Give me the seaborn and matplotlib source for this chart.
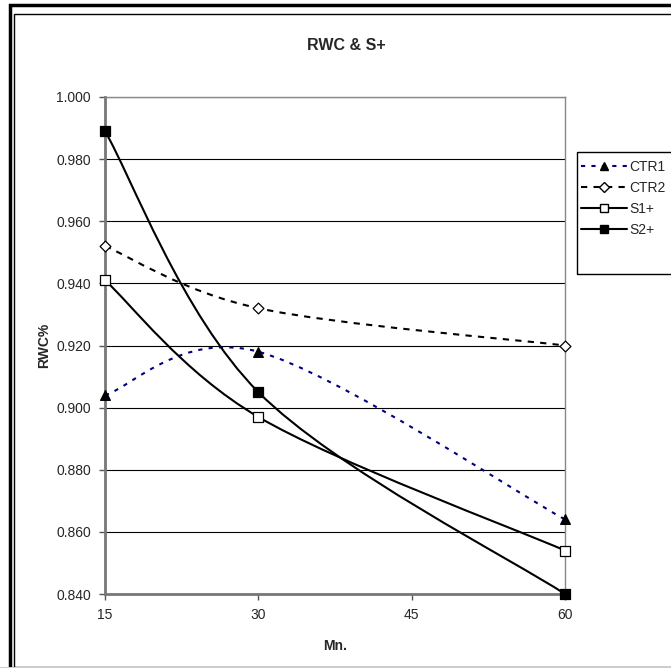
import numpy as np
import pandas as pd
import matplotlib
matplotlib.use("Agg")
import matplotlib.pyplot as plt
from matplotlib.path import Path
from matplotlib.patches import PathPatch, Rectangle
from matplotlib.lines import Line2D
import seaborn as sns

minutes = [15, 30, 60]
ctr1 = [0.904, 0.918, 0.864]
ctr2 = [0.952, 0.932, 0.920]
s1 = [0.941, 0.897, 0.854]
s2 = [0.989, 0.905, 0.840]
series_names = ["CTR1", "CTR2", "S1+", "S2+"]
x_ticks = [15, 30, 45, 60]
y_ticks = [0.840, 0.860, 0.880, 0.900, 0.920, 0.940, 0.960, 0.980, 1.000]

sns.set_theme(style="white")
plt.rcParams['font.family'] = ['Liberation Sans', 'DejaVu Sans']

fig = plt.figure(figsize=(6.71, 6.68), dpi=100)
ax = fig.add_axes([105/671, 1-594/668, (565-105)/671, (594-97)/668])

styles = {
    "CTR1": dict(color="#000080", ls=(0, (2, 3)), marker="^", mfc="black", mec="black", ms=7),
    "CTR2": dict(color="black", ls=(0, (3, 3)), marker="D", mfc="white", mec="black", ms=5.5),
    "S1+": dict(color="black", ls="-", marker="s", mfc="white", mec="black", ms=7),
    "S2+": dict(color="black", ls="-", marker="s", mfc="black", mec="black", ms=7),
}
data = {"CTR1": ctr1, "CTR2": ctr2, "S1+": s1, "S2+": s2}

def smooth_path(xs, ys):
    pts = np.column_stack([xs, ys]).astype(float)
    n = len(pts)
    verts = [pts[0]]
    codes = [Path.MOVETO]
    for i in range(n - 1):
        p0 = pts[i - 1] if i > 0 else pts[i]
        p1 = pts[i]
        p2 = pts[i + 1]
        p3 = pts[i + 2] if i + 2 < n else pts[i + 1]
        c1 = p1 + (p2 - p0) / 6.0
        c2 = p2 - (p3 - p1) / 6.0
        verts += [c1, c2, p2]
        codes += [Path.CURVE4] * 3
    return Path(verts, codes)

ax.set_xlim(15, 60)
ax.set_ylim(0.840, 1.000)

for name in series_names:
    st = styles[name]
    patch = PathPatch(smooth_path(minutes, data[name]), facecolor="none",
                      edgecolor=st["color"], lw=1.5, linestyle=st["ls"], zorder=3,
                      clip_on=False)
    ax.add_patch(patch)
    df = pd.DataFrame({"x": minutes, "y": data[name]})
    sns.scatterplot(data=df, x="x", y="y", ax=ax, marker=st["marker"],
                    color=st["mfc"], edgecolor=st["mec"], linewidth=0.9,
                    s=st["ms"] ** 2, zorder=5, clip_on=False, legend=False)

ax.set_xticks(x_ticks)
ax.set_xticklabels([str(v) for v in x_ticks], fontsize=10)
ax.set_yticks(y_ticks)
ax.set_yticklabels([f"{v:.3f}" for v in y_ticks], fontsize=10)
ax.yaxis.grid(True, color="black", lw=0.8)
ax.xaxis.grid(False)
ax.set_axisbelow(True)
for side in ["left", "bottom"]:
    ax.spines[side].set_color("#777777")
    ax.spines[side].set_linewidth(2)
for side in ["top", "right"]:
    ax.spines[side].set_color("#888888")
    ax.spines[side].set_linewidth(1)
ax.tick_params(axis="both", which="both", direction="out", length=4, width=1,
               color="#555555", bottom=True, left=True, pad=6)
ax.set_xlabel("Mn.", fontsize=10, fontweight="bold", labelpad=12)
ax.set_ylabel("RWC%", fontsize=10, fontweight="bold", labelpad=4)
fig.text(346/671, 1-45/668, "RWC & S+", ha="center", va="center",
         fontsize=11.5, fontweight="bold")

handles = []
for name in series_names:
    st = styles[name]
    handles.append(Line2D([0], [0], color=st["color"], ls=st["ls"], lw=1.5,
                          marker=st["marker"], mfc=st["mfc"], mec=st["mec"],
                          ms=st["ms"] * 0.9))
leg = fig.legend(handles, series_names, loc="upper left",
                 bbox_to_anchor=(581/671, 1-160/668), frameon=False,
                 fontsize=10, handlelength=3.3, borderpad=0, labelspacing=0.5,
                 handletextpad=0.15, borderaxespad=0)
# legend frame (extends past the figure edge, as in the reference)
fig.patches.append(Rectangle((577/671, 1-274/668), 0.3, 122/668, transform=fig.transFigure,
                             fill=False, edgecolor="black", lw=1))

# chart frame
fig.patches.append(Rectangle((10/671, -0.01), 1.0, 1 - 5/668 + 0.01, transform=fig.transFigure,
                             fill=False, edgecolor="black", lw=2.5))
fig.patches.append(Rectangle((14/671, 1/668), 1.0, 1 - 15/668, transform=fig.transFigure,
                             fill=False, edgecolor="black", lw=1))
fig.patches.append(Rectangle((0, 0), 1, 1.5/668, transform=fig.transFigure,
                             facecolor="#cccccc", edgecolor="none"))

fig.savefig("out.png", dpi=100)
